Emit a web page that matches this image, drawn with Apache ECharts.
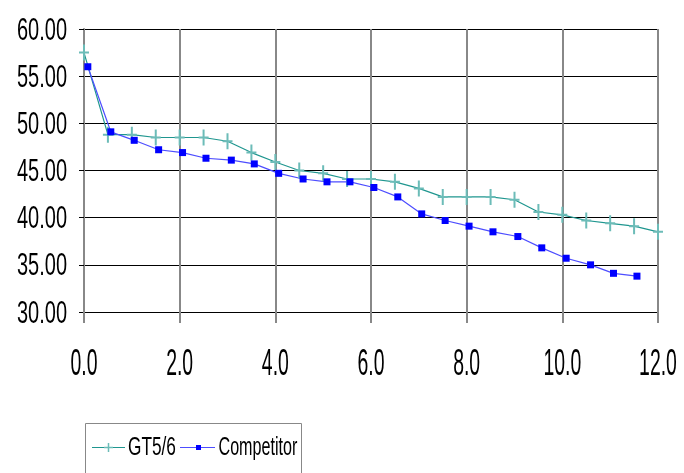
<!DOCTYPE html>
<html>
<head>
<meta charset="utf-8">
<script src="https://cdn.jsdelivr.net/npm/echarts@6/dist/echarts.min.js"></script>
<style>
html,body{margin:0;padding:0;background:#fff;}
#c{width:684px;height:473px;}
</style>
</head>
<body>
<div id="c"></div>
<script>
var seriesNames = ['GT5/6', 'Competitor'];
var gtX = [0, 0.5, 1, 1.5, 2, 2.5, 3, 3.5, 4, 4.5, 5, 5.5, 6, 6.5, 7, 7.5, 8, 8.5, 9, 9.5, 10, 10.5, 11, 11.5, 12];
var gtY = [57.5, 48.8, 48.8, 48.5, 48.5, 48.5, 48.1, 46.9, 45.9, 45.0, 44.7, 44.1, 44.1, 43.8, 43.1, 42.2, 42.2, 42.2, 41.9, 40.6, 40.3, 39.7, 39.4, 39.1, 38.5];
var compX = [0.08, 0.56, 1.05, 1.56, 2.06, 2.55, 3.08, 3.56, 4.07, 4.58, 5.08, 5.56, 6.06, 6.56, 7.06, 7.55, 8.05, 8.55, 9.07, 9.57, 10.08, 10.59, 11.07, 11.56];
var compY = [56.0, 49.1, 48.2, 47.2, 46.9, 46.3, 46.1, 45.7, 44.7, 44.1, 43.8, 43.8, 43.2, 42.2, 40.4, 39.7, 39.1, 38.5, 38.0, 36.8, 35.7, 35.0, 34.1, 33.8];
var xTickValues = [0, 2, 4, 6, 8, 10, 12];
var xTickLabels = ['0.0', '2.0', '4.0', '6.0', '8.0', '10.0', '12.0'];
var yTickValues = [30, 35, 40, 45, 50, 55, 60];
var yTickLabels = ['30.00', '35.00', '40.00', '45.00', '50.00', '55.00', '60.00'];
var xMin = 0, xMax = 12, xStep = 2;
var yMin = 30, yMax = 60, yStep = 5;

function pairs(xs, ys) { return xs.map(function (x, i) { return [x, ys[i]]; }); }

var FONT = "'Liberation Sans', Arial, sans-serif";
var plusPath = 'path://M4,0H6V7H10V9H6V16H4V9H0V7H4Z';
var gtLine = '#1f968f', gtMark = '#6cbcb8';
var cpLine = '#4d4dff', cpMark = '#0000ff';

var chart = echarts.init(document.getElementById('c'), null, { renderer: 'canvas' });
chart.setOption({
  animation: false,
  backgroundColor: '#ffffff',
  grid: { left: 84, right: 26, top: 29, bottom: 161, containLabel: false, outerBoundsMode: 'none' },
  xAxis: {
    type: 'value', min: xMin, max: xMax, interval: xStep,
    axisLine: { show: true, lineStyle: { color: '#000', width: 1 } },
    axisTick: { show: true, length: 11, lineStyle: { color: '#888', width: 2 } },
    axisLabel: { show: false },
    splitLine: { show: true, lineStyle: { color: '#888', width: 2 } }
  },
  yAxis: {
    type: 'value', min: yMin, max: yMax, interval: yStep,
    axisLine: { show: true, lineStyle: { color: '#888', width: 2 } },
    axisTick: { show: true, length: 5, lineStyle: { color: '#000', width: 1 } },
    axisLabel: { show: false },
    splitLine: { show: true, lineStyle: { color: '#000', width: 1 } }
  },
  series: [
    {
      name: seriesNames[0], type: 'line', data: pairs(gtX, gtY),
      symbol: plusPath, symbolSize: [10, 16],
      lineStyle: { color: gtLine, width: 1.2 },
      itemStyle: { color: gtMark }
    },
    {
      name: seriesNames[1], type: 'line', data: pairs(compX, compY),
      symbol: 'rect', symbolSize: 7,
      lineStyle: { color: cpLine, width: 1.2 },
      itemStyle: { color: cpMark }
    }
  ]
});

// condensed tick labels positioned through the chart's own scales
var g = [];
xTickValues.forEach(function (v, i) {
  var p = chart.convertToPixel({ gridIndex: 0 }, [v, yMin]);
  g.push({ type: 'text', x: p[0], y: p[1] + 53, scaleX: 0.54, silent: true,
    style: { text: xTickLabels[i], font: '36px ' + FONT, fill: '#000', align: 'center', verticalAlign: 'middle' } });
});
yTickValues.forEach(function (v, i) {
  var p = chart.convertToPixel({ gridIndex: 0 }, [xMin, v]);
  g.push({ type: 'text', x: p[0] - 17, y: p[1] + 2, scaleX: 0.645, silent: true,
    style: { text: yTickLabels[i], font: '31px ' + FONT, fill: '#000', align: 'right', verticalAlign: 'middle' } });
});

// legend
var ly = 447.5;
g.push({ type: 'rect', silent: true, shape: { x: 85.5, y: 423.5, width: 216, height: 90 },
  style: { fill: 'none', stroke: '#888', lineWidth: 1 } });
g.push({ type: 'line', silent: true, shape: { x1: 92, y1: ly, x2: 125, y2: ly }, style: { stroke: gtLine, lineWidth: 1.2 } });
g.push({ type: 'line', silent: true, shape: { x1: 108.5, y1: ly - 4.5, x2: 108.5, y2: ly + 4.5 }, style: { stroke: gtMark, lineWidth: 1.5 } });
g.push({ type: 'line', silent: true, shape: { x1: 104, y1: ly, x2: 113, y2: ly }, style: { stroke: gtMark, lineWidth: 1.5 } });
g.push({ type: 'text', x: 128, y: ly + 1, scaleX: 0.69, silent: true,
  style: { text: seriesNames[0], font: '25px ' + FONT, fill: '#000', align: 'left', verticalAlign: 'middle' } });
g.push({ type: 'line', silent: true, shape: { x1: 180, y1: ly, x2: 215, y2: ly }, style: { stroke: cpLine, lineWidth: 1.2 } });
g.push({ type: 'rect', silent: true, shape: { x: 196, y: ly - 2.5, width: 5, height: 5 }, style: { fill: cpMark } });
g.push({ type: 'text', x: 218.5, y: ly + 1, scaleX: 0.645, silent: true,
  style: { text: seriesNames[1], font: '25px ' + FONT, fill: '#000', align: 'left', verticalAlign: 'middle' } });

chart.setOption({ graphic: g });
</script>
</body>
</html>
